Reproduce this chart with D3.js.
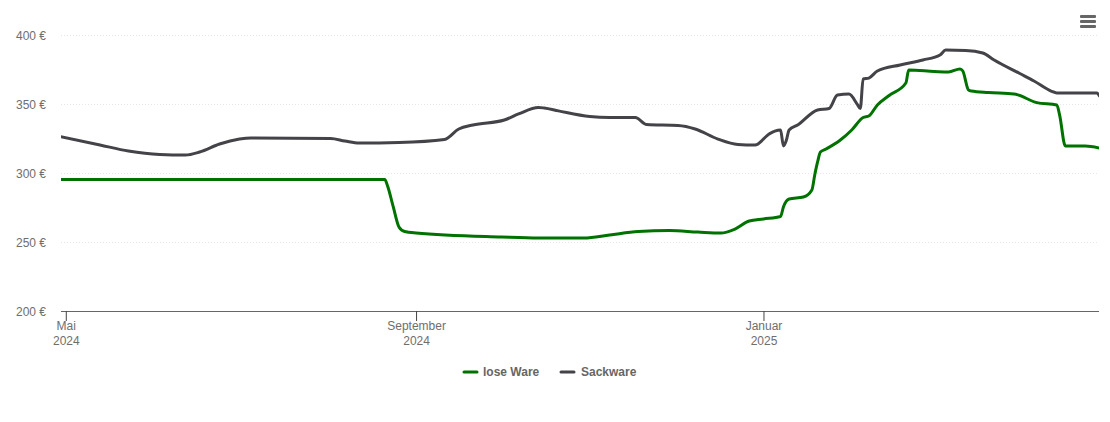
<!DOCTYPE html>
<html>
<head>
<meta charset="utf-8">
<script src="https://cdn.jsdelivr.net/npm/d3@7"></script>
<style>
    html, body { margin: 0; padding: 0; background: #fff; }
    text { font-family: "Liberation Sans", Arial, sans-serif; }
</style>
</head>
<body>
<div id="chart"></div>
<script>
// Chart values
var looseDates = ["2024-04-29","2024-08-21","2024-08-22","2024-08-24","2024-08-26","2024-08-28","2024-09-01","2024-10-01","2024-10-14","2024-10-30","2024-11-08","2024-11-18","2024-11-29","2024-12-09","2024-12-17","2024-12-22","2024-12-27","2025-01-01","2025-01-07","2025-01-08","2025-01-10","2025-01-15","2025-01-18","2025-01-19","2025-01-20","2025-01-21","2025-01-23","2025-01-28","2025-02-01","2025-02-05","2025-02-07","2025-02-10","2025-02-14","2025-02-20","2025-02-21","2025-03-02","2025-03-07","2025-03-11","2025-03-12","2025-03-14","2025-03-15","2025-03-21","2025-03-30","2025-04-07","2025-04-14","2025-04-15","2025-04-17","2025-04-24","2025-04-29"];
var looseValues = [295.3,295.3,290.6,275.4,260.9,257.6,256.5,253.6,252.9,252.9,255.1,257.6,258.3,257.2,256.5,259.4,265.2,266.7,268.5,275.4,281.2,282.6,287.7,298.6,308,315.2,317.4,323.9,331.2,340.2,341.3,349.3,356,365.2,374.6,373.6,373.2,375.4,373.9,360.1,359.4,358.3,357.3,351,349.3,342,319.6,319.6,318.1];

var sackDates = ["2024-04-29","2024-05-13","2024-05-23","2024-06-03","2024-06-12","2024-06-17","2024-06-24","2024-07-01","2024-07-05","2024-08-02","2024-08-07","2024-08-12","2024-08-26","2024-09-11","2024-09-16","2024-09-21","2024-10-02","2024-10-07","2024-10-14","2024-10-16","2024-10-21","2024-11-01","2024-11-08","2024-11-17","2024-11-21","2024-12-02","2024-12-08","2024-12-16","2024-12-23","2024-12-29","2025-01-03","2025-01-05","2025-01-07","2025-01-08","2025-01-09","2025-01-10","2025-01-13","2025-01-20","2025-01-24","2025-01-27","2025-01-31","2025-02-03","2025-02-04","2025-02-05","2025-02-07","2025-02-10","2025-02-18","2025-02-26","2025-03-04","2025-03-06","2025-03-13","2025-03-19","2025-03-23","2025-04-01","2025-04-06","2025-04-12","2025-04-14","2025-04-28","2025-04-29"];
var sackValues = [326.4,320.3,315.9,313.4,313,315.2,321,324.6,325.4,325,323.2,321.7,322.1,324.3,331.9,334.8,338.4,342.8,347.5,347.1,345,340.9,340.2,340.2,335.1,334.4,331.9,324.6,320.7,320.3,328.3,330.4,331.2,319.6,323.5,331.2,334.8,345.7,346.7,356.5,357.2,349.6,346.7,368.1,368.8,373.9,378.3,381.9,385.5,389.1,388.8,387,381.9,372.1,366.7,359.4,358,358,355.8];

var yTicks = [200, 250, 300, 350, 400];
var xTickDates = ["2024-05-01", "2024-09-01", "2025-01-01"];
var xTickLabels = [["Mai", "2024"], ["September", "2024"], ["Januar", "2025"]];
var seriesNames = ["lose Ware", "Sackware"];
var seriesColors = ["#007200", "#434348"];

// Chart Params
var svgWidth = 1110;
var svgHeight = 422;

var margin = { top: 35, right: 11, bottom: 111, left: 61 };

var parseDate = d3.utcParse("%Y-%m-%d");

var svg = d3.select("#chart")
    .append("svg")
    .attr("width", svgWidth)
    .attr("height", svgHeight)
    .style("display", "block");

var xScale = d3.scaleUtc()
    .domain([parseDate("2024-04-29"), parseDate("2025-04-29")])
    .range([60.1, 1099.5]);

var yScale = d3.scaleLinear()
    .domain([200, 400])
    .range([svgHeight - margin.bottom, margin.top]);

// Lines stop at the plot edge
svg.append("clipPath")
    .attr("id", "plot-clip")
    .append("rect")
    .attr("x", margin.left)
    .attr("y", 0)
    .attr("width", svgWidth - margin.left - margin.right)
    .attr("height", svgHeight);

// Y axis: only dotted grid lines and labels
var yAxis = svg.append("g")
    .attr("transform", `translate(${margin.left}, 0)`)
    .call(d3.axisLeft(yScale)
        .tickValues(yTicks)
        .tickSize(-(svgWidth - margin.left - margin.right))
        .tickPadding(15)
        .tickFormat(d => d + " €"));

yAxis.select(".domain").remove();
yAxis.selectAll("line")
    .attr("stroke", "#e6e6e6")
    .attr("stroke-dasharray", "1,2");
yAxis.selectAll("line").filter(d => d === 200).remove();
yAxis.selectAll("text")
    .attr("fill", "#6e6e6e")
    .attr("dy", "0.36em")
    .style("font-size", "12px");

// X axis
var xAxis = svg.append("g")
    .attr("transform", `translate(0, ${yScale(200)})`)
    .call(d3.axisBottom(xScale)
        .tickValues(xTickDates.map(parseDate))
        .tickSize(10)
        .tickFormat(""));

xAxis.select(".domain")
    .attr("stroke", "#666")
    .attr("stroke-width", 1.2)
    .attr("d", `M${margin.left},0.5H${svgWidth - margin.right}`);
xAxis.selectAll("line").attr("stroke", "#444");

xAxis.selectAll(".tick").each(function(d, i) {
    var label = d3.select(this).select("text")
        .attr("fill", "#6e6e6e")
        .attr("y", 0)
        .attr("dy", null)
        .style("font-size", "12px");
    label.selectAll("tspan")
        .data(xTickLabels[i])
        .join("tspan")
        .attr("x", 0)
        .attr("y", (t, j) => 19 + j * 15)
        .text(t => t);
});

// Lines
var line = d3.line()
    .x(d => xScale(d.date))
    .y(d => yScale(d.value))
    .curve(d3.curveMonotoneX);

function toPoints(dates, values) {
    return dates.map((d, i) => ({ date: parseDate(d), value: values[i] }));
}

var allSeries = [toPoints(looseDates, looseValues), toPoints(sackDates, sackValues)];

svg.append("g")
    .attr("clip-path", "url(#plot-clip)")
    .selectAll("path")
    .data(allSeries)
    .join("path")
    .attr("d", line)
    .attr("fill", "none")
    .attr("stroke", (d, i) => seriesColors[i])
    .attr("stroke-width", 3)
    .attr("stroke-linejoin", "round")
    .attr("stroke-linecap", "round");

// Legend
var legendX = [464, 561];
var legend = svg.append("g")
    .selectAll("g")
    .data(seriesNames)
    .join("g")
    .attr("transform", (d, i) => `translate(${legendX[i]}, 372)`);

legend.append("line")
    .attr("x1", 0)
    .attr("x2", 13)
    .attr("stroke", (d, i) => seriesColors[i])
    .attr("stroke-width", 3)
    .attr("stroke-linecap", "round");

legend.append("text")
    .attr("x", (d, i) => i === 0 ? 19 : 20)
    .attr("y", 4)
    .attr("fill", "#666")
    .style("font-size", "12px")
    .style("font-weight", "bold")
    .text(d => d);

// Menu icon
var menuBars = [0, 1, 2];
svg.append("g")
    .selectAll("rect")
    .data(menuBars)
    .join("rect")
    .attr("x", 1080)
    .attr("y", d => 15 + d * 5)
    .attr("width", 16)
    .attr("height", 3)
    .attr("rx", 1)
    .attr("fill", "#666");
</script>
</body>
</html>
